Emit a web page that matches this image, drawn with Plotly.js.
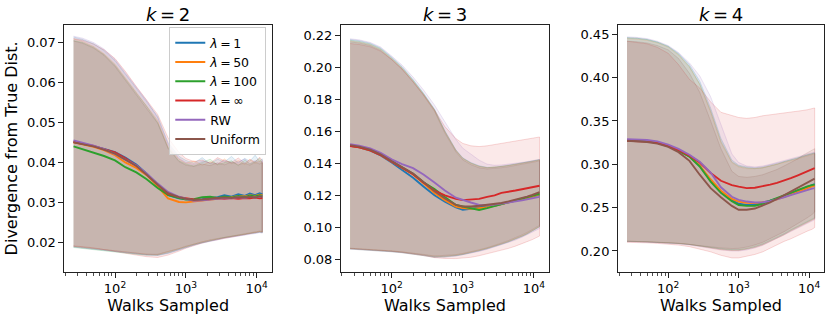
<!DOCTYPE html>
<html>
<head>
<meta charset="utf-8">
<script src="https://cdn.plot.ly/plotly-3.0.1.min.js"></script>
<style>html,body{margin:0;padding:0;background:#fff;}#chart{width:831px;height:319px;}</style>
</head>
<body>
<div id="chart"></div>
<script>
// ---- data ----
const X = [26,35,50,70,100,140,200,280,400,560,800,1000,1300,1700,2200,2800,3500,4400,5500,6800,8000,9500,11000,12000];
const SERIES = ['<i>λ</i>\u2009=\u20091','<i>λ</i>\u2009=\u200950','<i>λ</i>\u2009=\u2009100','<i>λ</i>\u2009=\u2009∞','RW','Uniform'];
const COLORS = ['31,119,180','255,127,14','44,160,44','214,39,40','148,103,189','140,86,75'];
const PANEL_TITLES = ['<i>k</i>\u2009=\u20092','<i>k</i>\u2009=\u20093','<i>k</i>\u2009=\u20094'];
const X_TICKS = [100,1000,10000];
const X_TICKTEXT = ['10<sup>2</sup>','10<sup>3</sup>','10<sup>4</sup>'];
const X_MINOR = [20,30,40,50,60,70,80,90,200,300,400,500,600,700,800,900,2000,3000,4000,5000,6000,7000,8000,9000,20000];
const K2_TICKS = [0.02,0.03,0.04,0.05,0.06,0.07];
const K3_TICKS = [0.08,0.10,0.12,0.14,0.16,0.18,0.20,0.22];
const K4_TICKS = [0.20,0.25,0.30,0.35,0.40,0.45];

// k = 2
const k2Mean = [
 [.0452,.0447,.0441,.0434,.0426,.0412,.0395,.0372,.0345,.0318,.0310,.0309,.0306,.0308,.0311,.0313,.0318,.0314,.0320,.0316,.0322,.0318,.0323,.0320],
 [.0450,.0445,.0439,.0431,.0418,.0400,.0386,.0368,.0340,.0310,.0301,.0300,.0302,.0304,.0306,.0309,.0312,.0313,.0316,.0315,.0318,.0316,.0319,.0318],
 [.0440,.0433,.0425,.0416,.0405,.0388,.0375,.0358,.0336,.0319,.0311,.0307,.0308,.0313,.0314,.0311,.0315,.0312,.0316,.0313,.0317,.0315,.0318,.0316],
 [.0451,.0447,.0441,.0433,.0425,.0410,.0392,.0370,.0345,.0321,.0313,.0310,.0307,.0306,.0308,.0310,.0309,.0311,.0309,.0311,.0310,.0312,.0310,.0311],
 [.0455,.0449,.0442,.0433,.0421,.0407,.0392,.0372,.0347,.0326,.0314,.0309,.0304,.0305,.0307,.0309,.0311,.0310,.0313,.0311,.0314,.0312,.0315,.0314],
 [.0450,.0446,.0440,.0432,.0422,.0407,.0391,.0369,.0344,.0323,.0313,.0309,.0306,.0307,.0309,.0310,.0312,.0311,.0313,.0312,.0314,.0312,.0315,.0313]
];
const k2Upper = [
 [.0714,.0708,.0697,.0680,.0655,.0622,.0587,.0552,.0515,.0450,.0415,.0405,.0398,.0412,.0396,.0408,.0401,.0415,.0399,.0410,.0403,.0418,.0402,.0409],
 [.0709,.0703,.0690,.0672,.0646,.0612,.0578,.0543,.0505,.0440,.0408,.0398,.0404,.0393,.0402,.0395,.0409,.0397,.0405,.0394,.0407,.0398,.0404,.0400],
 [.0705,.0700,.0688,.0670,.0643,.0608,.0573,.0540,.0500,.0437,.0404,.0396,.0391,.0400,.0408,.0394,.0399,.0404,.0392,.0406,.0396,.0402,.0410,.0398],
 [.0710,.0706,.0696,.0682,.0660,.0628,.0590,.0556,.0520,.0462,.0425,.0410,.0402,.0406,.0398,.0412,.0404,.0400,.0411,.0398,.0408,.0401,.0413,.0405],
 [.0716,.0711,.0700,.0684,.0658,.0625,.0590,.0555,.0512,.0446,.0410,.0400,.0395,.0403,.0399,.0396,.0406,.0398,.0402,.0409,.0397,.0405,.0399,.0403],
 [.0704,.0698,.0686,.0668,.0640,.0605,.0570,.0536,.0498,.0435,.0402,.0393,.0390,.0396,.0392,.0399,.0394,.0401,.0395,.0398,.0393,.0400,.0396,.0399]
];
const k2Lower = [
 [.0188,.0186,.0183,.0180,.0177,.0174,.0171,.0168,.0167,.0172,.0181,.0187,.0193,.0199,.0204,.0207,.0211,.0214,.0217,.0219,.0222,.0223,.0225,.0224],
 [.0190,.0188,.0185,.0182,.0179,.0176,.0173,.0170,.0169,.0175,.0183,.0189,.0195,.0201,.0205,.0209,.0213,.0216,.0219,.0221,.0223,.0225,.0227,.0226],
 [.0187,.0185,.0182,.0179,.0176,.0173,.0170,.0168,.0168,.0174,.0182,.0188,.0194,.0200,.0204,.0208,.0212,.0215,.0218,.0220,.0222,.0224,.0226,.0225],
 [.0191,.0189,.0186,.0182,.0178,.0173,.0168,.0164,.0162,.0168,.0178,.0185,.0192,.0198,.0203,.0207,.0211,.0214,.0217,.0220,.0222,.0224,.0226,.0225],
 [.0189,.0187,.0184,.0181,.0178,.0175,.0172,.0169,.0168,.0173,.0181,.0187,.0193,.0198,.0203,.0206,.0210,.0213,.0216,.0218,.0220,.0222,.0224,.0223],
 [.0190,.0188,.0185,.0182,.0179,.0176,.0173,.0170,.0170,.0176,.0184,.0190,.0196,.0201,.0206,.0210,.0214,.0217,.0220,.0222,.0224,.0226,.0228,.0227]
];

// k = 3
const k3Mean = [
 [.1510,.1500,.1480,.1450,.1405,.1360,.1310,.1255,.1200,.1160,.1125,.1110,.1115,.1125,.1130,.1135,.1145,.1155,.1165,.1175,.1182,.1192,.1200,.1205],
 [.1510,.1501,.1482,.1453,.1410,.1372,.1330,.1275,.1215,.1170,.1130,.1120,.1115,.1120,.1125,.1135,.1145,.1155,.1165,.1175,.1183,.1193,.1202,.1208],
 [.1512,.1503,.1484,.1455,.1413,.1375,.1335,.1282,.1240,.1190,.1140,.1130,.1120,.1108,.1120,.1133,.1146,.1158,.1168,.1178,.1186,.1196,.1204,.1210],
 [.1508,.1500,.1481,.1452,.1410,.1372,.1332,.1280,.1230,.1200,.1178,.1170,.1172,.1178,.1190,.1200,.1215,.1225,.1230,.1238,.1245,.1250,.1255,.1260],
 [.1520,.1511,.1493,.1466,.1425,.1395,.1370,.1330,.1280,.1230,.1185,.1170,.1155,.1140,.1138,.1142,.1148,.1153,.1160,.1168,.1175,.1180,.1188,.1190],
 [.1514,.1505,.1486,.1457,.1414,.1376,.1336,.1283,.1225,.1180,.1140,.1130,.1130,.1135,.1140,.1145,.1152,.1162,.1172,.1182,.1192,.1202,.1212,.1220]
];
const k3Upper = [
 [.2175,.2168,.2152,.2122,.2065,.2005,.1925,.1840,.1740,.1605,.1485,.1435,.1405,.1385,.1375,.1376,.1382,.1388,.1395,.1402,.1408,.1414,.1420,.1424],
 [.2165,.2158,.2142,.2112,.2055,.1995,.1915,.1832,.1732,.1598,.1480,.1430,.1400,.1380,.1372,.1374,.1380,.1386,.1392,.1399,.1405,.1411,.1417,.1421],
 [.2170,.2163,.2147,.2117,.2060,.2000,.1920,.1836,.1736,.1600,.1482,.1432,.1402,.1382,.1373,.1375,.1381,.1387,.1394,.1401,.1407,.1413,.1419,.1423],
 [.2150,.2144,.2130,.2102,.2050,.1990,.1910,.1830,.1735,.1630,.1555,.1525,.1510,.1505,.1510,.1518,.1525,.1532,.1538,.1545,.1550,.1556,.1562,.1565],
 [.2180,.2173,.2157,.2128,.2072,.2015,.1940,.1860,.1765,.1660,.1550,.1495,.1455,.1420,.1395,.1388,.1390,.1394,.1400,.1406,.1411,.1416,.1421,.1425],
 [.2160,.2153,.2137,.2107,.2050,.1990,.1910,.1826,.1726,.1590,.1472,.1422,.1392,.1372,.1365,.1367,.1373,.1379,.1386,.1393,.1400,.1406,.1412,.1416]
];
const k3Lower = [
 [.0866,.0863,.0859,.0854,.0849,.0843,.0836,.0826,.0815,.0816,.0822,.0829,.0839,.0852,.0865,.0878,.0893,.0908,.0923,.0942,.0957,.0975,.0992,.1002],
 [.0868,.0865,.0861,.0856,.0851,.0845,.0838,.0828,.0818,.0819,.0826,.0833,.0843,.0856,.0869,.0882,.0897,.0912,.0927,.0946,.0961,.0979,.0996,.1006],
 [.0864,.0861,.0857,.0852,.0847,.0841,.0834,.0824,.0813,.0815,.0823,.0830,.0841,.0854,.0867,.0880,.0895,.0910,.0925,.0944,.0959,.0977,.0994,.1004],
 [.0866,.0863,.0859,.0854,.0849,.0842,.0834,.0823,.0810,.0805,.0804,.0806,.0812,.0822,.0833,.0844,.0856,.0868,.0882,.0897,.0910,.0923,.0936,.0945],
 [.0863,.0860,.0856,.0851,.0846,.0840,.0833,.0823,.0812,.0813,.0820,.0827,.0837,.0849,.0862,.0875,.0890,.0905,.0920,.0938,.0952,.0968,.0983,.0992],
 [.0869,.0866,.0862,.0857,.0852,.0846,.0839,.0830,.0820,.0822,.0829,.0836,.0846,.0859,.0872,.0886,.0901,.0917,.0933,.0952,.0967,.0985,.1002,.1012]
];

// k = 4
const k4Mean = [
 [.3280,.3277,.3268,.3250,.3210,.3160,.3090,.2980,.2815,.2680,.2590,.2545,.2530,.2535,.2555,.2580,.2605,.2635,.2665,.2695,.2715,.2740,.2760,.2770],
 [.3280,.3277,.3269,.3251,.3211,.3161,.3092,.2985,.2825,.2695,.2600,.2570,.2555,.2552,.2558,.2572,.2595,.2620,.2650,.2680,.2705,.2725,.2745,.2755],
 [.3278,.3275,.3266,.3248,.3208,.3158,.3088,.2975,.2800,.2670,.2575,.2530,.2520,.2522,.2545,.2580,.2610,.2645,.2675,.2705,.2725,.2745,.2760,.2765],
 [.3270,.3268,.3262,.3247,.3212,.3165,.3100,.3020,.2900,.2810,.2760,.2742,.2725,.2730,.2745,.2765,.2785,.2810,.2840,.2870,.2895,.2920,.2940,.2955],
 [.3290,.3287,.3280,.3264,.3226,.3178,.3110,.3030,.2905,.2735,.2625,.2590,.2570,.2560,.2562,.2575,.2595,.2620,.2645,.2670,.2690,.2705,.2720,.2725],
 [.3272,.3268,.3258,.3238,.3200,.3140,.3040,.2880,.2725,.2620,.2520,.2475,.2475,.2490,.2525,.2560,.2600,.2645,.2690,.2730,.2765,.2795,.2820,.2835]
];
const k4Upper = [
 [.446,.4455,.444,.441,.436,.428,.415,.396,.365,.330,.305,.299,.297,.296,.297,.299,.301,.303,.305,.307,.309,.311,.312,.313],
 [.445,.4445,.443,.440,.435,.426,.412,.392,.360,.325,.302,.297,.295,.295,.296,.298,.300,.302,.304,.306,.308,.310,.311,.312],
 [.446,.4455,.444,.441,.436,.427,.413,.393,.362,.327,.303,.298,.296,.295,.296,.298,.300,.303,.305,.307,.309,.311,.312,.313],
 [.442,.441,.439,.435,.428,.415,.398,.388,.372,.360,.356,.354,.353,.354,.356,.357,.358,.359,.360,.361,.362,.363,.364,.365],
 [.447,.4465,.445,.442,.437,.429,.417,.402,.378,.345,.312,.302,.298,.297,.298,.300,.302,.304,.306,.308,.310,.312,.313,.314],
 [.442,.4415,.440,.437,.432,.422,.405,.383,.350,.318,.292,.286,.285,.286,.288,.291,.294,.298,.302,.306,.310,.313,.316,.318]
];
const k4Lower = [
 [.2110,.2108,.2104,.2100,.2094,.2086,.2075,.2060,.2040,.2022,.2010,.2010,.2022,.2045,.2075,.2110,.2150,.2190,.2235,.2275,.2305,.2335,.2360,.2375],
 [.2112,.2110,.2106,.2101,.2095,.2087,.2076,.2058,.2035,.2015,.2005,.2005,.2018,.2040,.2070,.2105,.2145,.2185,.2230,.2270,.2300,.2330,.2355,.2370],
 [.2111,.2109,.2105,.2100,.2094,.2086,.2075,.2062,.2042,.2025,.2015,.2015,.2028,.2052,.2082,.2118,.2158,.2198,.2243,.2283,.2313,.2343,.2368,.2383],
 [.2100,.2098,.2094,.2088,.2080,.2068,.2050,.2025,.1990,.1950,.1920,.1920,.1940,.1960,.1990,.2030,.2070,.2110,.2140,.2170,.2200,.2230,.2250,.2270],
 [.2108,.2106,.2102,.2097,.2090,.2082,.2070,.2055,.2032,.2012,.2000,.2000,.2012,.2035,.2065,.2100,.2140,.2180,.2222,.2260,.2290,.2320,.2345,.2360],
 [.2113,.2111,.2107,.2102,.2096,.2089,.2079,.2066,.2050,.2035,.2028,.2030,.2045,.2070,.2100,.2138,.2180,.2222,.2268,.2310,.2345,.2385,.2420,.2450]
];

// ---- build ----
const PANELS = [
  {mean:k2Mean, up:k2Upper, lo:k2Lower, xa:'x',  ya:'y'},
  {mean:k3Mean, up:k3Upper, lo:k3Lower, xa:'x2', ya:'y2'},
  {mean:k4Mean, up:k4Upper, lo:k4Lower, xa:'x3', ya:'y3'}
];
const traces = [];
const Xrev = X.slice().reverse();
PANELS.forEach(p => {
  for (let i = 0; i < SERIES.length; i++) {
    traces.push({
      type:'scatter', mode:'lines', xaxis:p.xa, yaxis:p.ya,
      x: X.concat(Xrev), y: p.up[i].concat(p.lo[i].slice().reverse()),
      fill:'toself', fillcolor:'rgba(' + COLORS[i] + ',0.1)',
      line:{color:'rgba(' + COLORS[i] + ',0.25)', width:0.7},
      hoverinfo:'skip', showlegend:false
    });
  }
});
PANELS.forEach((p, pi) => {
  for (let i = 0; i < SERIES.length; i++) {
    traces.push({
      type:'scatter', mode:'lines', xaxis:p.xa, yaxis:p.ya,
      x: X, y: p.mean[i], name: SERIES[i],
      line:{color:'rgb(' + COLORS[i] + ')', width:1.9},
      showlegend: pi === 0
    });
  }
});

const AXC = '#222';
function xAxis(domain, anchor) {
  return {
    domain: domain, anchor: anchor, type:'log', range:[1.287, 4.212],
    tickmode:'array', tickvals:X_TICKS, ticktext:X_TICKTEXT,
    ticks:'outside', ticklen:5, tickwidth:1, tickcolor:AXC,
    minor:{tickmode:'array', tickvals:X_MINOR, ticks:'outside', ticklen:3, tickwidth:0.8, tickcolor:AXC, showgrid:false},
    showline:true, mirror:true, linecolor:AXC, linewidth:1,
    showgrid:false, zeroline:false,
    tickfont:{family:'DejaVu Sans', size:13, color:'#000'},
    title:{text:'Walks Sampled', font:{family:'DejaVu Sans', size:16, color:'#000'}, standoff:1},
    automargin:false
  };
}
function yAxis(domain, anchor, range, ticks, title) {
  const a = {
    domain: domain, anchor: anchor, range: range,
    tickmode:'array', tickvals:ticks, tickformat:'.2f',
    ticks:'outside', ticklen:5, tickwidth:1, tickcolor:AXC,
    showline:true, mirror:true, linecolor:AXC, linewidth:1,
    showgrid:false, zeroline:false,
    tickfont:{family:'DejaVu Sans', size:13, color:'#000'},
    automargin:false
  };
  if (title) a.title = {text:title, font:{family:'DejaVu Sans', size:16, color:'#000'}, standoff:5};
  return a;
}
const YD = [0.1483, 0.9216];
const layout = {
  width:831, height:319,
  margin:{l:0, r:0, t:0, b:0},
  paper_bgcolor:'#fff', plot_bgcolor:'#fff',
  font:{family:'DejaVu Sans', color:'#000'},
  xaxis:  xAxis([0.0776, 0.3270], 'y'),
  xaxis2: xAxis([0.4103, 0.6606], 'y2'),
  xaxis3: xAxis([0.7437, 0.9916], 'y3'),
  yaxis:  yAxis(YD, 'x',  [0.01264, 0.0744], K2_TICKS, 'Divergence from True Dist.'),
  yaxis2: yAxis(YD, 'x2', [0.0722, 0.2266], K3_TICKS, null),
  yaxis3: yAxis(YD, 'x3', [0.1761, 0.4607], K4_TICKS, null),
  legend:{x:0.2037, y:0.915, xanchor:'left', yanchor:'top',
    bgcolor:'rgba(255,255,255,0.8)', bordercolor:'#cccccc', borderwidth:1,
    font:{family:'DejaVu Sans', size:12.5, color:'#000'}, tracegroupgap:0},
  annotations: PANEL_TITLES.map((t, i) => ({
    text:t, xref:'paper', yref:'paper', x:[0.2023,0.5355,0.8676][i], y:0.954,
    xanchor:'center', yanchor:'middle', showarrow:false,
    font:{family:'DejaVu Sans', size:18, color:'#000'}
  }))
};
Plotly.newPlot('chart', traces, layout, {staticPlot:true, displayModeBar:false});
</script>
</body>
</html>
